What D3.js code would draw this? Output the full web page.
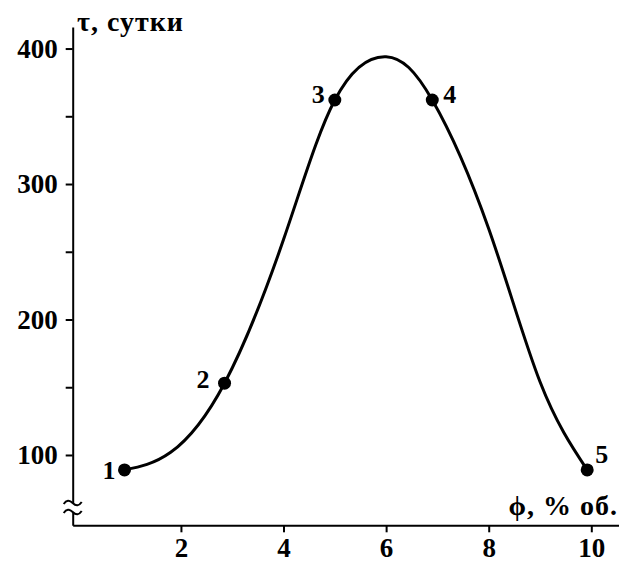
<!DOCTYPE html>
<html>
<head>
<meta charset="utf-8">
<script src="https://cdn.jsdelivr.net/npm/d3@7"></script>
<style>
  body { margin: 0; background: #fff; }
  svg text { font-family: "Liberation Serif", "Times New Roman", serif; font-weight: bold; fill: #000; }
</style>
</head>
<body>
<div id="chart"></div>
<script>
// measured points 1..5
var pointX = [0.9, 2.85, 5.0, 6.9, 9.92];
var pointY = [89, 153, 362, 362, 89];
var pointLabels = ['1', '2', '3', '4', '5'];

// points
var curveX = [0.9, 1.8, 2.85, 4.0, 5.0, 6.0, 6.9, 8.0, 9.0, 9.92];
var curveY = [89, 102, 153, 259, 362, 394, 362, 267, 154, 89];

var xTicks = [2, 4, 6, 8, 10];
var yTicks = [100, 200, 300, 400];
var yMinorTicks = [150, 250, 350];

var width = 619, height = 562;

var svg = d3.select('#chart').append('svg')
    .attr('width', width)
    .attr('height', height);

var x = d3.scaleLinear().domain([-0.11, 10.54]).range([72.7, 619]);
var y = d3.scaleLinear().domain([48.1, 415.9]).range([525.3, 27]);

// x axis
var xAxis = svg.append('g')
    .attr('transform', 'translate(0,' + y.range()[0] + ')')
    .call(d3.axisBottom(x).tickValues(xTicks).tickSize(7).tickSizeOuter(0).tickPadding(6));

// y axis with minor ticks
var yAxis = svg.append('g')
    .attr('transform', 'translate(' + x.range()[0] + ',0)')
    .call(d3.axisLeft(y).tickValues(yTicks).tickSize(7).tickSizeOuter(0).tickPadding(8));

svg.append('g')
    .attr('transform', 'translate(' + x.range()[0] + ',0)')
    .call(d3.axisLeft(y).tickValues(yMinorTicks).tickSize(7).tickSizeOuter(0).tickFormat(''))
    .select('.domain').remove();

svg.selectAll('.domain, .tick line')
    .attr('stroke', '#000')
    .attr('stroke-width', 2);

xAxis.selectAll('text').style('font-size', '27px').attr('font-family', null);
yAxis.selectAll('text').style('font-size', '27px').attr('font-family', null);

// axis break symbol
var bx = x.range()[0];
svg.append('rect')
    .attr('x', bx - 3).attr('y', 503)
    .attr('width', 6).attr('height', 9)
    .attr('fill', '#fff');
[502, 511].forEach(function (by) {
    svg.append('path')
        .attr('d', 'M' + (bx - 9) + ',' + (by + 2) + ' q4,-6 9,-1 t9,-1')
        .attr('fill', 'none')
        .attr('stroke', '#000')
        .attr('stroke-width', 2);
});

// curve
var curve = curveX.map(function (d, i) { return [d, curveY[i]]; });
var line = d3.line()
    .x(function (d) { return x(d[0]); })
    .y(function (d) { return y(d[1]); })
    .curve(d3.curveNatural);

svg.append('path')
    .datum(curve)
    .attr('d', line)
    .attr('fill', 'none')
    .attr('stroke', '#000')
    .attr('stroke-width', 3);

// points
var pts = pointX.map(function (d, i) { return { x: d, y: pointY[i], label: pointLabels[i] }; });
svg.selectAll('.pt')
    .data(pts)
    .enter().append('circle')
    .attr('class', 'pt')
    .attr('cx', function (d) { return x(d.x); })
    .attr('cy', function (d) { return y(d.y); })
    .attr('r', 6.5)
    .attr('fill', '#000');

var labelDx = [-22, -28, -23, 11, 8];
var labelDy = [9, 5, 3, 3, -7];
svg.selectAll('.pl')
    .data(pts)
    .enter().append('text')
    .attr('class', 'pl')
    .attr('x', function (d, i) { return x(d.x) + labelDx[i]; })
    .attr('y', function (d, i) { return y(d.y) + labelDy[i]; })
    .style('font-size', '26px')
    .text(function (d) { return d.label; });

// axis titles
svg.append('text')
    .attr('x', 77)
    .attr('y', 31)
    .style('font-size', '28px')
    .style('letter-spacing', '1px')
    .text('τ, сутки');

svg.append('text')
    .attr('x', 618)
    .attr('y', 515)
    .attr('text-anchor', 'end')
    .style('font-size', '28px')
    .style('letter-spacing', '1px')
    .text('ϕ, % об.');
</script>
</body>
</html>
